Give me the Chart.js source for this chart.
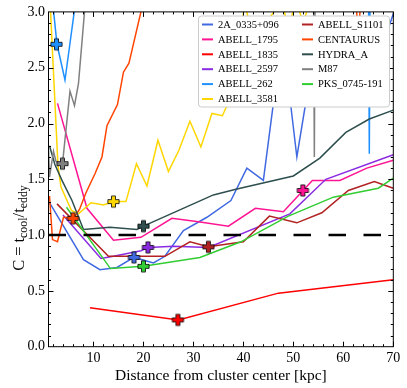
<!DOCTYPE html>
<html>
<head>
<meta charset="utf-8">
<script src="https://cdn.jsdelivr.net/npm/chart.js@4.4.1/dist/chart.umd.min.js"></script>
<style>
  html, body { margin: 0; padding: 0; background: #fff; }
</style>
</head>
<body>
<canvas id="cooling-chart" width="407" height="388"></canvas>
<script>
/* values: radius [kpc] and C = tcool/teddy */
const seriesNames = ["2A_0335+096", "ABELL_1795", "ABELL_1835", "ABELL_2597", "ABELL_262", "ABELL_3581",
                     "ABELL_S1101", "CENTAURUS", "HYDRA_A", "M87", "PKS_0745-191"];

const r2A0335 = [1.2, 8.0, 11.3, 14.7, 18.1, 22.0, 24.3, 28.0, 32.7, 37.5, 40.7, 44.0, 47.8, 50.7, 54.0, 58.0, 62.0, 66.0, 69.0, 70.5];
const c2A0335 = [1.29, 0.78, 0.69, 0.71, 0.80, 0.75, 0.81, 1.04, 1.16, 1.31, 1.60, 1.49, 2.80, 1.70, 2.60, 2.50, 2.70, 2.60, 2.85, 3.05];

const rA1795 = [2.8, 8.7, 14.0, 19.5, 25.7, 31.0, 37.0, 42.4, 48.0, 53.8, 59.3, 64.7, 70.0];
const cA1795 = [2.18, 1.24, 0.955, 0.98, 1.15, 1.12, 1.08, 1.24, 1.21, 1.49, 1.49, 1.60, 1.67];

const rA1835 = [9.3, 27.0, 47.0, 70.0];
const cA1835 = [0.35, 0.24, 0.48, 0.60];

const rA2597 = [3.9, 11.5, 14.0, 19.5, 21.0, 26.0, 33.0, 49.3, 56.5, 70.0];
const cA2597 = [1.18, 0.79, 0.81, 0.86, 0.89, 0.90, 0.89, 1.19, 1.50, 1.72];

const rA262 = [1.8, 2.7, 4.3, 6.3, 8.0, 65.0, 65.2, 65.4];
const cA262 = [3.1, 2.71, 2.39, 3.05, 3.6, 3.6, 1.73, 3.6];

const rA3581 = [1.2, 2.9, 3.5, 5.6, 7.0, 9.5, 12.0, 14.0, 16.5, 18.6, 20.7, 22.9, 25.0, 27.1, 29.3, 31.5, 33.7, 35.8, 37.3,
                39.0, 40.3, 41.5, 44.5, 47.7, 49.0, 50.5, 52.0, 53.3, 55.0];
const cA3581 = [3.2, 1.62, 1.43, 1.22, 1.19, 1.29, 1.27, 1.30, 1.30, 1.64, 1.44, 1.85, 1.57, 1.76, 2.02, 1.79, 2.09, 2.07, 2.22,
                2.60, 3.10, 2.80, 2.90, 3.10, 2.85, 3.10, 2.90, 3.10, 3.50];

const rAS1101 = [2.7, 13.0, 19.3, 24.3, 29.3, 33.0, 40.0, 45.2, 50.7, 55.7, 61.0, 66.2, 70.0];
const cAS1101 = [1.28, 0.81, 0.81, 0.81, 0.94, 0.895, 0.94, 1.17, 1.11, 1.20, 1.40, 1.48, 1.42];

const rCentaurus = [1.2, 1.8, 2.8, 4.0, 6.0, 7.2, 8.5, 10.3, 11.7, 12.7, 14.8, 16.0, 17.1, 19.6, 21.0, 62.0, 63.0, 64.0];
const cCentaurus = [1.35, 0.96, 0.94, 1.16, 1.15, 1.23, 1.38, 1.55, 1.70, 1.98, 2.17, 2.46, 2.54, 3.02, 3.40, 3.40, 2.80, 3.40];

const rHydra = [1.2, 2.3, 3.7, 5.7, 8.0, 13.3, 18.7, 20.0, 34.0, 38.5, 50.0, 55.3, 60.5, 65.2, 70.0];
const cHydra = [1.80, 1.63, 1.49, 1.31, 1.05, 1.07, 1.05, 1.08, 1.36, 1.41, 1.53, 1.69, 1.92, 2.04, 2.12];

const rM87 = [1.0, 1.2, 2.0, 2.5, 3.8, 5.3, 6.2, 7.0, 8.3, 9.0, 54.0, 54.2, 54.4];
const cM87 = [1.78, 1.52, 1.75, 1.66, 1.64, 2.29, 2.16, 2.36, 3.05, 3.60, 3.60, 1.70, 3.60];

const rPKS = [4.6, 13.4, 20.0, 31.3, 39.5, 49.0, 58.0, 67.0, 70.0];
const cPKS = [1.25, 0.70, 0.72, 0.80, 0.94, 1.17, 1.34, 1.42, 1.51];

// one highlighted point per cluster (the filled crosses)
const markerR = [18.1, 51.9, 26.9, 20.9, 2.6, 14.0, 33.0, 5.9, 20.0, 3.8, 20.0];
const markerC = [0.80, 1.40, 0.24, 0.89, 2.71, 1.30, 0.895, 1.15, 1.08, 1.64, 0.72];

const thresholdC = 1.0;
const xTicks = [10, 20, 30, 40, 50, 60, 70];
const yTicks = [0.0, 0.5, 1.0, 1.5, 2.0, 2.5, 3.0];

/* styling */
const seriesColors = ["#4169E1", "#FF1493", "#FF0000", "#8A2BE2", "#1E90FF", "#FFD700",
                      "#B22222", "#FF4500", "#2F4F4F", "#808080", "#32CD32"];
const seriesR = [r2A0335, rA1795, rA1835, rA2597, rA262, rA3581, rAS1101, rCentaurus, rHydra, rM87, rPKS];
const seriesC = [c2A0335, cA1795, cA1835, cA2597, cA262, cA3581, cAS1101, cCentaurus, cHydra, cM87, cPKS];
const SERIF = "'Liberation Serif', 'Times New Roman', serif";

function plusMarker(color) {
    const c = document.createElement("canvas");
    c.width = 15;
    c.height = 15;
    const g = c.getContext("2d");
    const m = 7.5, L = 5.6, a = 2.0;
    g.beginPath();
    g.moveTo(m - a, m - L); g.lineTo(m + a, m - L); g.lineTo(m + a, m - a);
    g.lineTo(m + L, m - a); g.lineTo(m + L, m + a); g.lineTo(m + a, m + a);
    g.lineTo(m + a, m + L); g.lineTo(m - a, m + L); g.lineTo(m - a, m + a);
    g.lineTo(m - L, m + a); g.lineTo(m - L, m - a); g.lineTo(m - a, m - a);
    g.closePath();
    g.fillStyle = color;
    g.fill();
    g.lineWidth = 1;
    g.strokeStyle = "rgba(0,0,0,0.8)";
    g.stroke();
    return c;
}

const lineSets = seriesNames.map((name, i) => ({
    label: name,
    data: seriesR[i].map((r, j) => ({ x: r, y: seriesC[i][j] })),
    borderColor: seriesColors[i],
    borderWidth: 1.5,
    pointRadius: 0,
    tension: 0,
    fill: false,
    order: 100 - i,
}));

const markerSets = seriesNames.map((name, i) => ({
    label: name + " marker",
    data: [{ x: markerR[i], y: markerC[i] }],
    showLine: false,
    pointStyle: plusMarker(seriesColors[i]),
    pointRadius: 7,
    order: 0,
}));

const thresholdSet = {
    label: "threshold",
    data: [{ x: 1, y: thresholdC }, { x: 70, y: thresholdC }],
    borderColor: "#000",
    borderWidth: 2.5,
    borderDash: [17.5, 17.5],
    pointRadius: 0,
    order: 1,
};

// frame + inward ticks on all four sides
const frameTicks = {
    id: "frameTicks",
    afterDatasetsDraw(chart) {
        const { ctx, chartArea: a, scales: { x, y } } = chart;
        ctx.save();
        ctx.strokeStyle = "#000";
        ctx.lineWidth = 1;
        ctx.strokeRect(a.left, a.top, a.right - a.left, a.bottom - a.top);
        ctx.beginPath();
        for (let v = 2; v <= 70; v += 2) {
            const px = Math.round(x.getPixelForValue(v)) + 0.5;
            const len = xTicks.includes(v) ? 5 : 2.5;
            ctx.moveTo(px, a.bottom); ctx.lineTo(px, a.bottom - len);
            ctx.moveTo(px, a.top); ctx.lineTo(px, a.top + len);
        }
        for (let k = 1; k < 30; k++) {
            const v = k / 10;
            const py = Math.round(y.getPixelForValue(v)) + 0.5;
            const len = k % 5 === 0 ? 5 : 2.5;
            ctx.moveTo(a.left, py); ctx.lineTo(a.left + len, py);
            ctx.moveTo(a.right, py); ctx.lineTo(a.right - len, py);
        }
        ctx.stroke();
        ctx.restore();
    },
};

// y axis label with subscripts
const yLabel = {
    id: "yLabel",
    afterDraw(chart) {
        const { ctx } = chart;
        const size = 16.5, sub = size * 0.72;
        const parts = [
            { t: "C", f: size, dy: 0 },
            { t: "=", f: size, dy: 0, gap: 4 },
            { t: "t", f: size, dy: 0, gap: 4 },
            { t: "cool", f: sub, dy: size * 0.22 },
            { t: "/t", f: size, dy: 0 },
            { t: "eddy", f: sub, dy: size * 0.22 },
        ];
        ctx.save();
        let total = 0;
        parts.forEach(p => {
            ctx.font = `${p.f}px ${SERIF}`;
            p.w = ctx.measureText(p.t).width;
            total += p.w + (p.gap || 0);
        });
        ctx.translate(20, 228);
        ctx.rotate(-Math.PI / 2);
        ctx.fillStyle = "#000";
        ctx.textBaseline = "middle";
        let cx = -total / 2;
        parts.forEach(p => {
            cx += p.gap || 0;
            ctx.font = `${p.f}px ${SERIF}`;
            ctx.fillText(p.t, cx, p.dy);
            cx += p.w;
        });
        ctx.restore();
    },
};

// legend box in the upper right, two columns
const boxLegend = {
    id: "boxLegend",
    afterDraw(chart) {
        const { ctx } = chart;
        const bx = 198, by = 15.5, bw = 191, bh = 91;
        ctx.save();
        ctx.beginPath();
        ctx.roundRect(bx + 0.5, by + 0.5, bw, bh, 3);
        ctx.fillStyle = "#fff";
        ctx.fill();
        ctx.strokeStyle = "#cccccc";
        ctx.lineWidth = 1;
        ctx.stroke();
        ctx.font = `10.5px ${SERIF}`;
        ctx.textBaseline = "middle";
        seriesNames.forEach((name, i) => {
            const col = i < 6 ? 0 : 1;
            const row = i < 6 ? i : i - 6;
            const lx = col === 0 ? 202 : 302;
            const ly = 24.5 + row * 14.9;
            ctx.strokeStyle = seriesColors[i];
            ctx.lineWidth = 2;
            ctx.beginPath();
            ctx.moveTo(lx, ly);
            ctx.lineTo(lx + 11, ly);
            ctx.stroke();
            ctx.fillStyle = "#000";
            ctx.fillText(name, lx + 16, ly + 0.5);
        });
        ctx.restore();
    },
};

const chart = new Chart(document.getElementById("cooling-chart"), {
    type: "line",
    data: { datasets: [...markerSets, thresholdSet, ...lineSets] },
    options: {
        responsive: false,
        animation: false,
        devicePixelRatio: 1,
        layout: { padding: { top: 11.5, right: 13.7, left: 0, bottom: 0 } },
        plugins: { legend: { display: false }, tooltip: { enabled: false } },
        scales: {
            x: {
                type: "linear",
                min: 1,
                max: 70,
                grid: { display: false, drawTicks: false },
                border: { display: false },
                afterBuildTicks: s => { s.ticks = xTicks.map(v => ({ value: v })); },
                afterFit: s => { s.height = 41.3; },
                ticks: { color: "#000", padding: 3, maxRotation: 0, font: { family: SERIF, size: 14 } },
                title: {
                    display: true,
                    text: "Distance from cluster center [kpc]",
                    color: "#000",
                    font: { family: SERIF, size: 15.5 },
                    padding: { top: 0, bottom: 3 },
                },
            },
            y: {
                type: "linear",
                min: 0,
                max: 3,
                grid: { display: false, drawTicks: false },
                border: { display: false },
                afterBuildTicks: s => { s.ticks = yTicks.map(v => ({ value: v })); },
                afterFit: s => { s.width = 48.5; },
                ticks: {
                    color: "#000",
                    padding: 3.5,
                    font: { family: SERIF, size: 14 },
                    callback: v => Number(v).toFixed(1),
                },
            },
        },
    },
    plugins: [frameTicks, boxLegend, yLabel],
});
</script>
</body>
</html>
